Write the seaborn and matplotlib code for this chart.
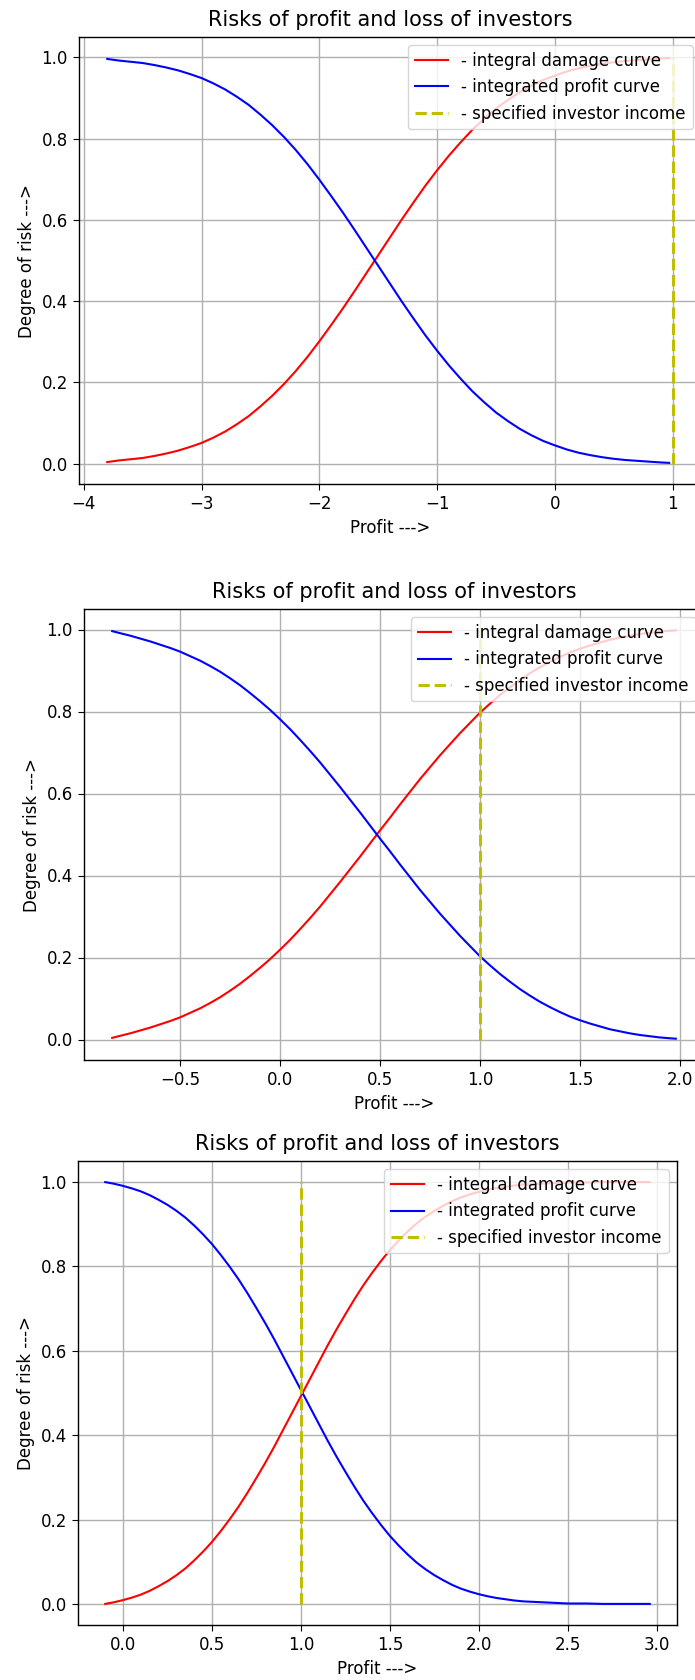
import matplotlib
matplotlib.use('Agg')
import matplotlib.pyplot as plt
import seaborn as sns
import pandas as pd

title = "Risks of profit and loss of investors"
damage_label = "- integral damage curve"
profit_label = "- integrated profit curve"
income_label = "- specified investor income"

# panel 1
profit1 = [-3.8, -3.7, -3.6, -3.5, -3.4, -3.3, -3.2, -3.1, -3.0, -2.9, -2.8, -2.7, -2.6, -2.5,
           -2.4, -2.3, -2.2, -2.1, -2.0, -1.9, -1.8, -1.7, -1.6, -1.5, -1.4, -1.3, -1.2, -1.1,
           -1.0, -0.9, -0.8, -0.7, -0.6, -0.5, -0.4, -0.3, -0.2, -0.1, 0.0, 0.1, 0.2, 0.3,
           0.4, 0.5, 0.6, 0.7, 0.8, 0.9, 0.97]
damage1 = [0.004, 0.008, 0.011, 0.014, 0.019, 0.025, 0.032, 0.041, 0.051, 0.064, 0.079, 0.097, 0.117, 0.141,
           0.167, 0.196, 0.228, 0.263, 0.301, 0.341, 0.382, 0.425, 0.469, 0.513, 0.557, 0.601, 0.643, 0.684,
           0.722, 0.758, 0.791, 0.822, 0.849, 0.874, 0.895, 0.914, 0.930, 0.944, 0.955, 0.965, 0.973, 0.979,
           0.984, 0.988, 0.991, 0.993, 0.995, 0.997, 0.998]
gain1 = [0.996, 0.992, 0.989, 0.986, 0.981, 0.975, 0.968, 0.959, 0.949, 0.936, 0.921, 0.903, 0.883, 0.859,
         0.833, 0.804, 0.772, 0.737, 0.699, 0.659, 0.618, 0.575, 0.531, 0.487, 0.443, 0.399, 0.357, 0.316,
         0.278, 0.242, 0.209, 0.178, 0.151, 0.126, 0.105, 0.086, 0.070, 0.056, 0.045, 0.035, 0.027, 0.021,
         0.016, 0.012, 0.009, 0.007, 0.005, 0.003, 0.002]
xticks1 = [-4, -3, -2, -1, 0, 1]

# panel 2
profit2 = [-0.84, -0.8, -0.75, -0.7, -0.65, -0.6, -0.55, -0.5, -0.45, -0.4, -0.35, -0.3, -0.25, -0.2,
           -0.15, -0.1, -0.05, 0.0, 0.05, 0.1, 0.15, 0.2, 0.25, 0.3, 0.35, 0.4, 0.45, 0.5, 0.55, 0.6,
           0.65, 0.7, 0.75, 0.8, 0.85, 0.9, 0.95, 1.0, 1.05, 1.1, 1.15, 1.2, 1.25, 1.3, 1.35, 1.4,
           1.45, 1.5, 1.55, 1.6, 1.65, 1.7, 1.75, 1.8, 1.85, 1.9, 1.95, 1.98]
damage2 = [0.004, 0.009, 0.015, 0.022, 0.029, 0.037, 0.045, 0.054, 0.065, 0.076, 0.089, 0.103, 0.119, 0.136,
           0.155, 0.175, 0.196, 0.219, 0.243, 0.269, 0.296, 0.324, 0.354, 0.384, 0.415, 0.446, 0.478, 0.510,
           0.541, 0.573, 0.604, 0.635, 0.664, 0.693, 0.720, 0.747, 0.772, 0.797, 0.819, 0.840, 0.859, 0.877,
           0.893, 0.908, 0.921, 0.933, 0.944, 0.953, 0.961, 0.968, 0.975, 0.980, 0.985, 0.989, 0.992, 0.995,
           0.997, 0.998]
gain2 = [0.996, 0.991, 0.985, 0.978, 0.971, 0.963, 0.955, 0.946, 0.935, 0.924, 0.911, 0.897, 0.881, 0.864,
         0.845, 0.825, 0.804, 0.781, 0.757, 0.731, 0.704, 0.676, 0.646, 0.616, 0.585, 0.554, 0.522, 0.490,
         0.459, 0.427, 0.396, 0.365, 0.336, 0.307, 0.280, 0.253, 0.228, 0.203, 0.181, 0.160, 0.141, 0.123,
         0.107, 0.092, 0.079, 0.067, 0.056, 0.047, 0.039, 0.032, 0.025, 0.020, 0.015, 0.011, 0.008, 0.005,
         0.003, 0.002]
xticks2 = [-0.5, 0.0, 0.5, 1.0, 1.5, 2.0]

# panel 3
profit3 = [-0.1, -0.05, 0.0, 0.05, 0.1, 0.15, 0.2, 0.25, 0.3, 0.35, 0.4, 0.45, 0.5, 0.55, 0.6, 0.65,
           0.7, 0.75, 0.8, 0.85, 0.9, 0.95, 1.0, 1.05, 1.1, 1.15, 1.2, 1.25, 1.3, 1.35, 1.4, 1.45,
           1.5, 1.55, 1.6, 1.65, 1.7, 1.75, 1.8, 1.85, 1.9, 1.95, 2.0, 2.05, 2.1, 2.15, 2.2, 2.25,
           2.3, 2.4, 2.5, 2.6, 2.7, 2.8, 2.9, 2.96]
damage3 = [0.000, 0.004, 0.009, 0.015, 0.022, 0.031, 0.042, 0.054, 0.068, 0.084, 0.103, 0.124, 0.147, 0.173,
           0.201, 0.231, 0.264, 0.299, 0.335, 0.373, 0.413, 0.453, 0.493, 0.533, 0.573, 0.613, 0.651, 0.687,
           0.722, 0.755, 0.785, 0.813, 0.839, 0.862, 0.883, 0.902, 0.918, 0.932, 0.944, 0.955, 0.964, 0.971,
           0.977, 0.982, 0.986, 0.989, 0.992, 0.994, 0.995, 0.997, 0.999, 0.999, 1.000, 1.000, 1.000, 1.000]
gain3 = [1.000, 0.996, 0.991, 0.985, 0.978, 0.969, 0.958, 0.946, 0.932, 0.916, 0.897, 0.876, 0.853, 0.827,
         0.799, 0.769, 0.736, 0.701, 0.665, 0.627, 0.587, 0.547, 0.507, 0.467, 0.427, 0.387, 0.349, 0.313,
         0.278, 0.245, 0.215, 0.187, 0.161, 0.138, 0.117, 0.098, 0.082, 0.068, 0.056, 0.045, 0.036, 0.029,
         0.023, 0.018, 0.014, 0.011, 0.008, 0.006, 0.005, 0.003, 0.001, 0.001, 0.000, 0.000, 0.000, 0.000]
xticks3 = [0.0, 0.5, 1.0, 1.5, 2.0, 2.5, 3.0]

# specified investor income (same in every panel)
income_x = [1.0, 1.0]
income_y = [0.0, 1.0]
yticks = [0.0, 0.2, 0.4, 0.6, 0.8, 1.0]

plt.rcParams.update({
    'font.family': ['DejaVu Sans'],
    'font.size': 12,
    'axes.titlesize': 15,
    'axes.labelsize': 12,
    'xtick.labelsize': 12,
    'ytick.labelsize': 12,
    'legend.fontsize': 12,
    'grid.color': '#b0b0b0',
    'grid.linewidth': 1.0,
    'axes.linewidth': 1.0,
    'xtick.major.size': 4.5,
    'ytick.major.size': 4.5,
})

fig = plt.figure(figsize=(6.95, 16.8), dpi=100)

# axes boxes in figure fractions (the first two run past the right edge, as in the screenshots)
boxes = [
    [79 / 695, (1680 - 484) / 1680, 622 / 695, 447 / 1680],
    [84 / 695, (1680 - 1060) / 1680, 620 / 695, 451 / 1680],
    [78 / 695, (1680 - 1625) / 1680, 599 / 695, 464 / 1680],
]
panels = [
    (profit1, damage1, gain1, xticks1),
    (profit2, damage2, gain2, xticks2),
    (profit3, damage3, gain3, xticks3),
]

for box, (px, dmg, gn, xt) in zip(boxes, panels):
    ax = fig.add_axes(box)
    df = pd.DataFrame({'profit': px, 'damage': dmg, 'gain': gn})
    sns.lineplot(data=df, x='profit', y='damage', color='r', linewidth=1.5,
                 label=damage_label, ax=ax)
    sns.lineplot(data=df, x='profit', y='gain', color='b', linewidth=1.5,
                 label=profit_label, ax=ax)
    sns.lineplot(x=income_x, y=income_y, estimator=None, sort=False, color='y',
                 linestyle='--', linewidth=2.2, label=income_label, ax=ax)
    ax.set_xticks(xt)
    ax.set_yticks(yticks)
    ax.grid(True)
    ax.set_title(title, pad=8)
    ax.set_xlabel('Profit --->')
    ax.set_ylabel('Degree of risk --->')
    ax.legend(loc='upper right')

plt.savefig('out.png', dpi=100)
